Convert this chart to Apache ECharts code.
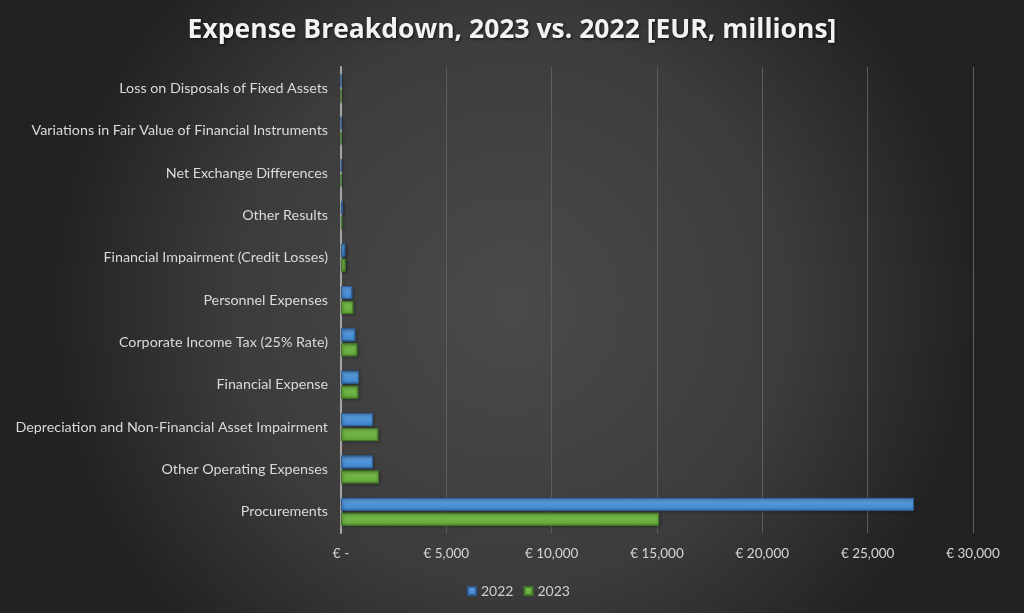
<!DOCTYPE html>
<html><head><meta charset="utf-8">
<script src="https://cdn.jsdelivr.net/npm/echarts@6/dist/echarts.min.js"></script>
<style>html,body{margin:0;padding:0;background:#333;}#c{width:1024px;height:613px;}</style>
</head><body><div id="c"></div>
<script>
const categories = [
  "Procurements",
  "Other Operating Expenses",
  "Depreciation and Non-Financial Asset Impairment",
  "Financial Expense",
  "Corporate Income Tax (25% Rate)",
  "Personnel Expenses",
  "Financial Impairment (Credit Losses)",
  "Other Results",
  "Net Exchange Differences",
  "Variations in Fair Value of Financial Instruments",
  "Loss on Disposals of Fixed Assets"
];
const values2022 = [27200, 1520, 1520, 855, 685, 540, 210, 95, 25, 15, 0];
const values2023 = [15100, 1800, 1775, 825, 780, 590, 225, 65, 15, 10, 0];
const seriesNames = ["2022", "2023"];
const xTicks = [0, 5000, 10000, 15000, 20000, 25000, 30000];

const chart = echarts.init(document.getElementById('c'));
const font = 'Lato, "Open Sans", sans-serif';
chart.setOption({
  backgroundColor: {type:'radial', x:0.5, y:0.5, r:0.75,
    colorStops:[{offset:0,color:'#4a4a4a'},{offset:0.6,color:'#3c3c3c'},{offset:1,color:'#222222'}]},
  title: {
    text: 'Expense Breakdown, 2023 vs. 2022 [EUR, millions]',
    left: 'center', top: 12,
    textStyle: {color:'#f2f2f2', fontSize: 26.5, fontWeight:'bold', fontFamily: '"Open Sans", sans-serif',
      textShadowColor:'rgba(0,0,0,0.7)', textShadowBlur:3, textShadowOffsetX:1, textShadowOffsetY:1}
  },
  legend: {
    data: seriesNames, left: 462, top: 579, itemWidth: 8, itemHeight: 8, itemGap: 10,
    icon: 'rect',
    textStyle: {color:'#d0d0d0', fontSize: 14, fontFamily: font}
  },
  grid: {left: 341, right: 51, top: 67, bottom: 80, containLabel: false},
  xAxis: {
    type: 'value', min: xTicks[0], max: xTicks[xTicks.length-1], interval: 5000,
    axisLine: {show:false}, axisTick: {show:false},
    splitLine: {show:true, lineStyle:{color:'#5e5e5e', width:1}},
    axisLabel: {color:'#d6d6d6', fontSize: 13.5, fontFamily: font, margin: 14,
      formatter: v => v === 0 ? '€ -' : '€ ' + v.toLocaleString('en-US')}
  },
  yAxis: {
    type: 'category', data: categories,
    axisLine: {show:true, lineStyle:{color:'#a6a6a6', width:2}},
    axisTick: {show:false},
    axisLabel: {color:'#dadada', fontSize: 14.3, fontFamily: font, margin: 13}
  },
  series: [
    {name: seriesNames[0], type:'bar', data: values2022, barWidth: 13, barGap: '15%',
     itemStyle: {color: {type:'linear',x:0,y:0,x2:0,y2:1,colorStops:[{offset:0,color:'#5fa0e0'},{offset:1,color:'#3f86cf'}]},
       borderColor:'#2f5f94', borderWidth:1, shadowColor:'rgba(0,0,0,0.5)', shadowBlur:3, shadowOffsetX:1, shadowOffsetY:1}},
    {name: seriesNames[1], type:'bar', data: values2023, barWidth: 13, barGap: '15%',
     itemStyle: {color: {type:'linear',x:0,y:0,x2:0,y2:1,colorStops:[{offset:0,color:'#7cbf4c'},{offset:1,color:'#62a73a'}]},
       borderColor:'#43782a', borderWidth:1, shadowColor:'rgba(0,0,0,0.5)', shadowBlur:3, shadowOffsetX:1, shadowOffsetY:1}}
  ]
});
</script></body></html>
